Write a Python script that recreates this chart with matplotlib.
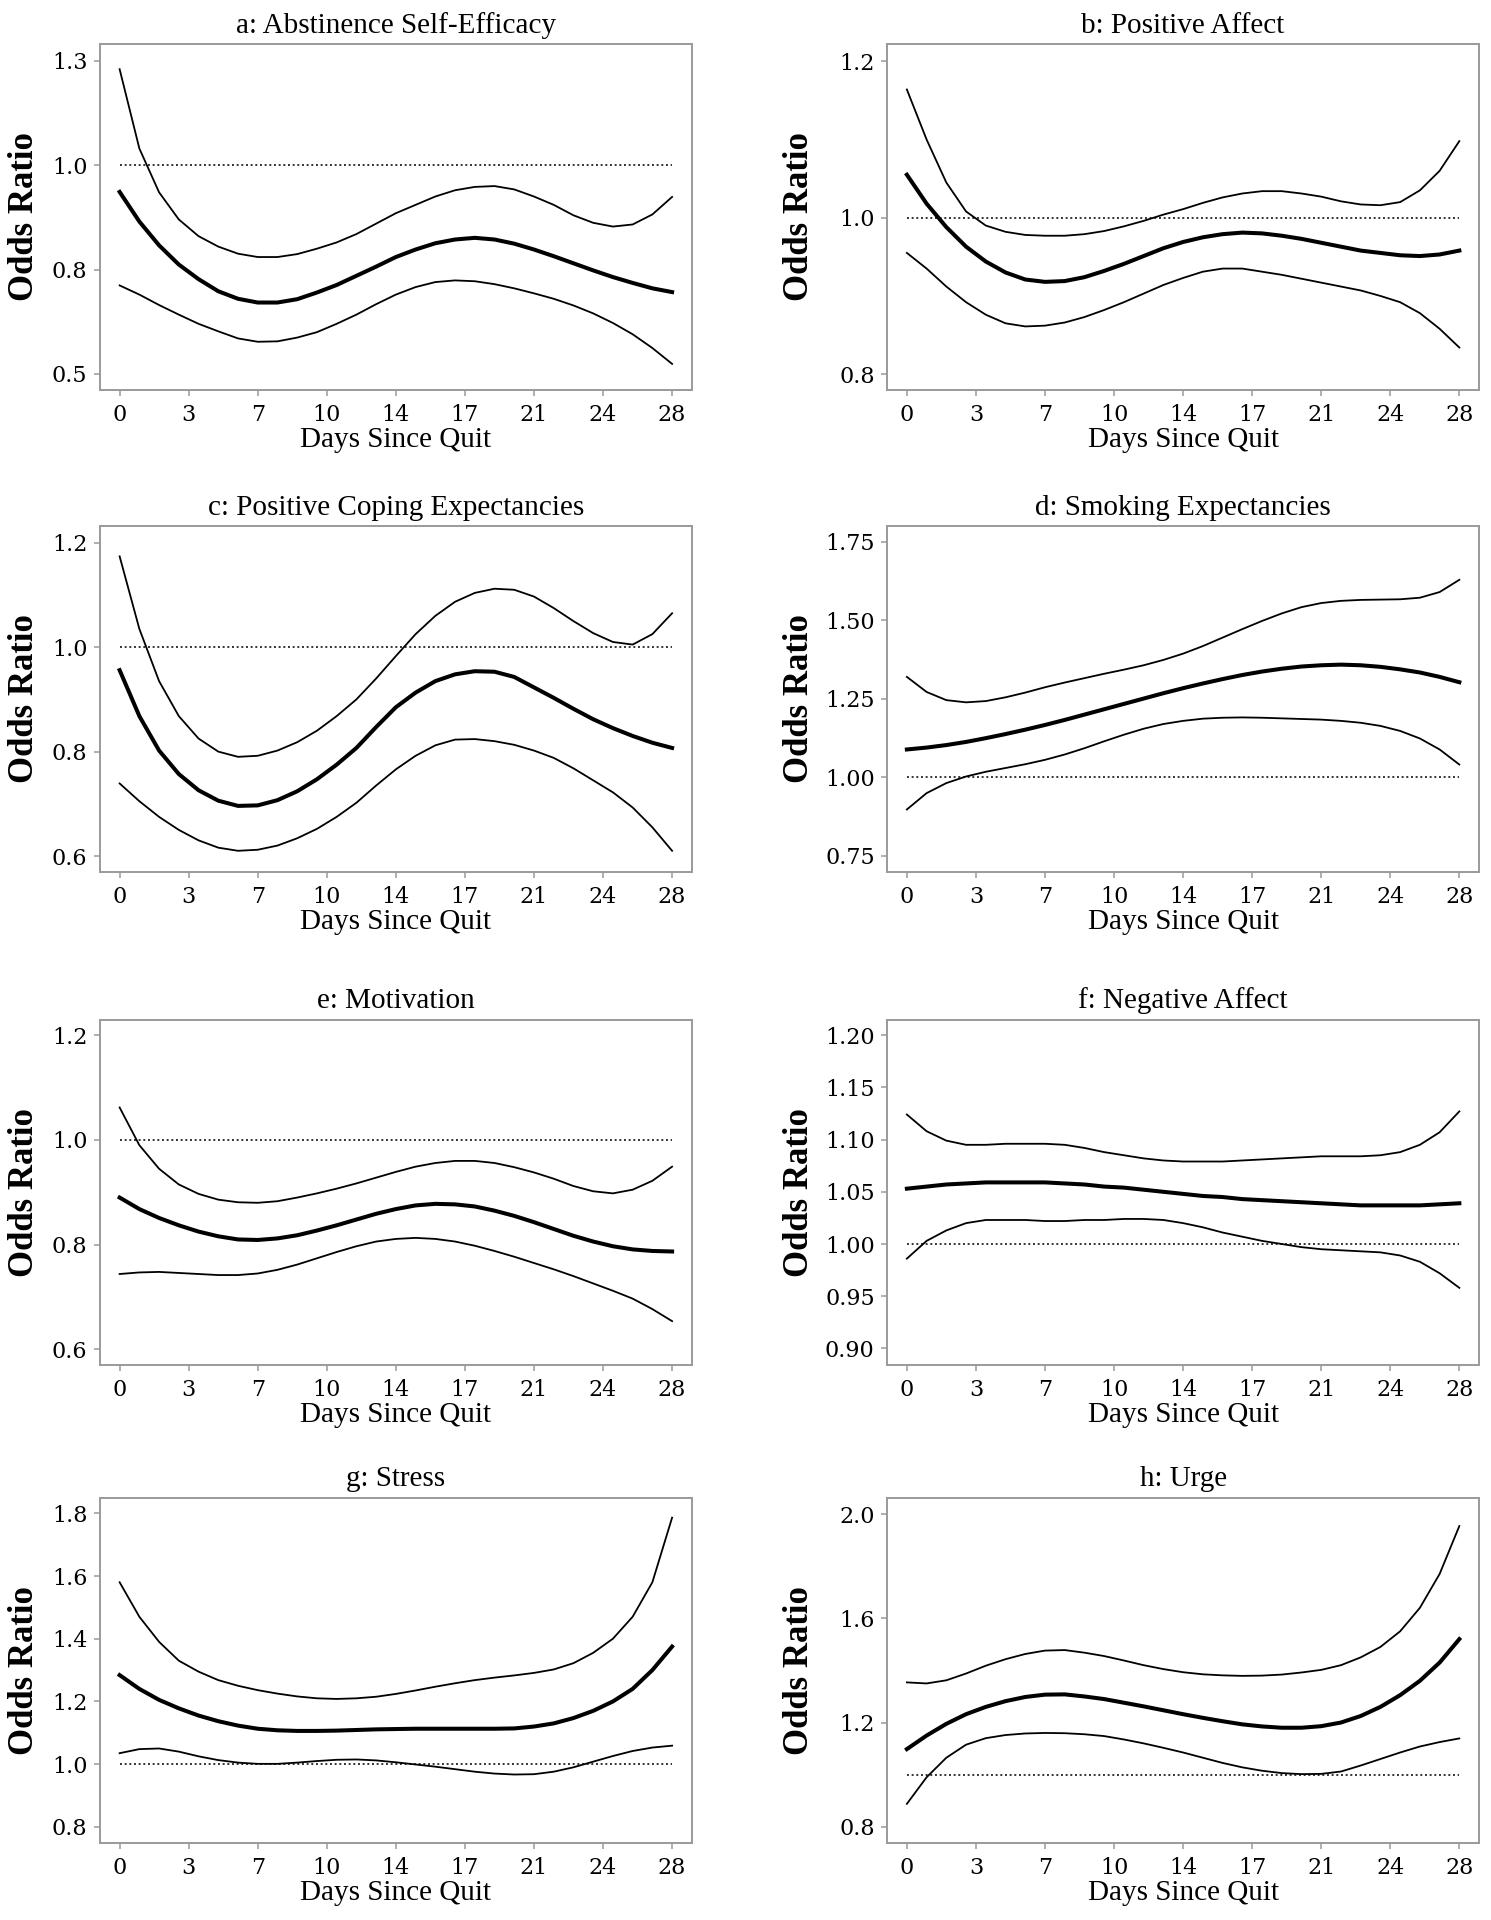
import numpy as np
import matplotlib.pyplot as plt

# every day 0..28
days = list(range(29))

tick_pos = [0, 3.5, 7, 10.5, 14, 17.5, 21, 24.5, 28]
tick_lab = ["0", "3", "7", "10", "14", "17", "21", "24", "28"]

titles = ["a: Abstinence Self-Efficacy", "b: Positive Affect",
          "c: Positive Coping Expectancies", "d: Smoking Expectancies",
          "e: Motivation", "f: Negative Affect", "g: Stress", "h: Urge"]

# a: Abstinence Self-Efficacy
a_up = [1.23, 1.04, 0.935, 0.87, 0.83, 0.805, 0.788, 0.78, 0.78, 0.787, 0.80, 0.815, 0.835,
        0.86, 0.885, 0.905, 0.925, 0.94, 0.948, 0.95, 0.942, 0.925, 0.905, 0.88, 0.862,
        0.853, 0.858, 0.882, 0.924]
a_est = [0.936, 0.865, 0.808, 0.762, 0.727, 0.698, 0.68, 0.671, 0.671, 0.679, 0.695, 0.713,
         0.735, 0.757, 0.78, 0.798, 0.813, 0.822, 0.826, 0.822, 0.812, 0.798, 0.782, 0.765,
         0.748, 0.732, 0.718, 0.705, 0.696]
a_lo = [0.712, 0.69, 0.665, 0.642, 0.62, 0.602, 0.585, 0.577, 0.578, 0.587, 0.60, 0.62, 0.642,
        0.667, 0.69, 0.708, 0.72, 0.724, 0.722, 0.715, 0.705, 0.693, 0.68, 0.664, 0.645,
        0.622, 0.595, 0.562, 0.524]

# b: Positive Affect
b_up = [1.164, 1.10, 1.045, 1.008, 0.99, 0.982, 0.978, 0.977, 0.977, 0.979, 0.983, 0.989,
        0.996, 1.004, 1.011, 1.019, 1.026, 1.031, 1.034, 1.034, 1.031, 1.027, 1.021, 1.017,
        1.016, 1.02, 1.035, 1.06, 1.098]
b_est = [1.055, 1.018, 0.988, 0.963, 0.944, 0.93, 0.921, 0.918, 0.919, 0.924, 0.932, 0.941,
         0.951, 0.961, 0.969, 0.975, 0.979, 0.981, 0.98, 0.977, 0.973, 0.968, 0.963, 0.958,
         0.955, 0.952, 0.951, 0.953, 0.958]
b_lo = [0.955, 0.935, 0.912, 0.892, 0.876, 0.865, 0.861, 0.862, 0.866, 0.873, 0.882, 0.892,
        0.903, 0.914, 0.923, 0.931, 0.935, 0.935, 0.931, 0.927, 0.922, 0.917, 0.912, 0.907,
        0.90, 0.892, 0.878, 0.858, 0.834]

# c: Positive Coping Expectancies
c_up = [1.174, 1.035, 0.935, 0.868, 0.825, 0.80, 0.79, 0.792, 0.802, 0.818, 0.84, 0.868,
        0.90, 0.94, 0.983, 1.025, 1.06, 1.087, 1.104, 1.112, 1.11, 1.097, 1.075, 1.05,
        1.027, 1.01, 1.005, 1.025, 1.065]
c_est = [0.956, 0.868, 0.802, 0.757, 0.726, 0.706, 0.696, 0.697, 0.707, 0.724, 0.747, 0.775,
         0.807, 0.847, 0.885, 0.913, 0.935, 0.948, 0.954, 0.953, 0.943, 0.923, 0.903, 0.882,
         0.862, 0.845, 0.83, 0.817, 0.807]
c_lo = [0.739, 0.705, 0.675, 0.65, 0.63, 0.616, 0.61, 0.612, 0.62, 0.634, 0.652, 0.675, 0.702,
        0.735, 0.766, 0.792, 0.812, 0.823, 0.824, 0.82, 0.813, 0.802, 0.788, 0.768, 0.745,
        0.722, 0.693, 0.655, 0.61]

# d: Smoking Expectancies
d_up = [1.32, 1.272, 1.246, 1.239, 1.243, 1.255, 1.27, 1.287, 1.302, 1.316, 1.33, 1.343,
        1.357, 1.374, 1.394, 1.418, 1.445, 1.472, 1.498, 1.522, 1.542, 1.555, 1.562, 1.565,
        1.566, 1.567, 1.572, 1.59, 1.629]
d_est = [1.089, 1.095, 1.103, 1.113, 1.125, 1.138, 1.152, 1.167, 1.183, 1.20, 1.217, 1.234,
         1.251, 1.268, 1.284, 1.299, 1.313, 1.326, 1.337, 1.346, 1.353, 1.357, 1.359, 1.357,
         1.352, 1.344, 1.334, 1.32, 1.303]
d_lo = [0.898, 0.95, 0.982, 1.003, 1.018, 1.03, 1.042, 1.056, 1.073, 1.093, 1.115, 1.136,
        1.155, 1.17, 1.18, 1.187, 1.19, 1.191, 1.19, 1.188, 1.186, 1.184, 1.18, 1.174,
        1.164, 1.148, 1.124, 1.089, 1.041]

# e: Motivation
e_up = [1.062, 0.99, 0.945, 0.915, 0.897, 0.886, 0.881, 0.88, 0.883, 0.89, 0.898, 0.907,
        0.917, 0.928, 0.939, 0.949, 0.956, 0.96, 0.96, 0.956, 0.948, 0.938, 0.926, 0.912,
        0.902, 0.898, 0.905, 0.922, 0.949]
e_est = [0.89, 0.868, 0.851, 0.837, 0.825, 0.816, 0.81, 0.809, 0.812, 0.818, 0.827, 0.837,
         0.848, 0.859, 0.868, 0.875, 0.878, 0.877, 0.873, 0.865, 0.855, 0.843, 0.83, 0.817,
         0.806, 0.797, 0.791, 0.788, 0.787]
e_lo = [0.744, 0.747, 0.748, 0.746, 0.744, 0.742, 0.742, 0.745, 0.752, 0.762, 0.774, 0.786,
        0.797, 0.806, 0.811, 0.813, 0.811, 0.806, 0.798, 0.788, 0.777, 0.765, 0.753, 0.74,
        0.726, 0.712, 0.697, 0.677, 0.654]

# f: Negative Affect
f_up = [1.124, 1.108, 1.099, 1.095, 1.095, 1.096, 1.096, 1.096, 1.095, 1.092, 1.088, 1.085,
        1.082, 1.08, 1.079, 1.079, 1.079, 1.08, 1.081, 1.082, 1.083, 1.084, 1.084, 1.084,
        1.085, 1.088, 1.095, 1.107, 1.127]
f_est = [1.053, 1.055, 1.057, 1.058, 1.059, 1.059, 1.059, 1.059, 1.058, 1.057, 1.055, 1.054,
         1.052, 1.05, 1.048, 1.046, 1.045, 1.043, 1.042, 1.041, 1.04, 1.039, 1.038, 1.037,
         1.037, 1.037, 1.037, 1.038, 1.039]
f_lo = [0.986, 1.003, 1.013, 1.02, 1.023, 1.023, 1.023, 1.022, 1.022, 1.023, 1.023, 1.024,
        1.024, 1.023, 1.02, 1.016, 1.011, 1.007, 1.003, 1.0, 0.997, 0.995, 0.994, 0.993,
        0.992, 0.989, 0.983, 0.972, 0.958]

# g: Stress
g_up = [1.58, 1.47, 1.39, 1.33, 1.295, 1.268, 1.25, 1.236, 1.225, 1.216, 1.21, 1.208, 1.21,
        1.215, 1.224, 1.235, 1.247, 1.258, 1.268, 1.276, 1.283, 1.291, 1.302, 1.322, 1.355,
        1.40, 1.47, 1.58, 1.786]
g_est = [1.284, 1.24, 1.205, 1.178, 1.155, 1.137, 1.123, 1.113, 1.108, 1.106, 1.106, 1.107,
         1.109, 1.111, 1.112, 1.113, 1.113, 1.113, 1.113, 1.113, 1.114, 1.12, 1.13, 1.147,
         1.17, 1.20, 1.24, 1.30, 1.375]
g_lo = [1.035, 1.048, 1.05, 1.04, 1.025, 1.013, 1.005, 1.001, 1.001, 1.005, 1.01, 1.014,
        1.015, 1.012, 1.006, 0.999, 0.992, 0.984, 0.976, 0.97, 0.967, 0.968, 0.976, 0.99,
        1.008, 1.026, 1.042, 1.053, 1.059]

# h: Urge
h_up = [1.354, 1.35, 1.362, 1.388, 1.418, 1.443, 1.463, 1.476, 1.478, 1.468, 1.455, 1.438,
        1.42, 1.405, 1.393, 1.385, 1.381, 1.379, 1.38, 1.384, 1.392, 1.402, 1.42, 1.45,
        1.49, 1.55, 1.64, 1.77, 1.954]
h_est = [1.098, 1.15, 1.195, 1.232, 1.26, 1.282, 1.298, 1.307, 1.308, 1.30, 1.29, 1.276,
         1.262, 1.247, 1.232, 1.218, 1.205, 1.193, 1.185, 1.18, 1.18, 1.186, 1.20, 1.225,
         1.26, 1.305, 1.36, 1.43, 1.52]
h_lo = [0.888, 0.99, 1.065, 1.115, 1.14, 1.152, 1.158, 1.16, 1.159, 1.155, 1.148, 1.135,
        1.12, 1.103, 1.085, 1.065, 1.045, 1.028, 1.015, 1.006, 1.002, 1.003, 1.012, 1.035,
        1.06, 1.085, 1.108, 1.125, 1.139]

curves = [(a_up, a_est, a_lo), (b_up, b_est, b_lo), (c_up, c_est, c_lo), (d_up, d_est, d_lo),
          (e_up, e_est, e_lo), (f_up, f_est, f_lo), (g_up, g_est, g_lo), (h_up, h_est, h_lo)]

yticks = [[0.5, 0.75, 1.0, 1.25], [0.8, 1.0, 1.2], [0.6, 0.8, 1.0, 1.2],
          [0.75, 1.0, 1.25, 1.5, 1.75], [0.6, 0.8, 1.0, 1.2],
          [0.90, 0.95, 1.00, 1.05, 1.10, 1.15, 1.20], [0.8, 1.0, 1.2, 1.4, 1.6, 1.8],
          [0.8, 1.2, 1.6, 2.0]]
ylabels = [["0.5", "0.8", "1.0", "1.3"], ["0.8", "1.0", "1.2"], ["0.6", "0.8", "1.0", "1.2"],
           ["0.75", "1.00", "1.25", "1.50", "1.75"], ["0.6", "0.8", "1.0", "1.2"],
           ["0.90", "0.95", "1.00", "1.05", "1.10", "1.15", "1.20"],
           ["0.8", "1.0", "1.2", "1.4", "1.6", "1.8"], ["0.8", "1.2", "1.6", "2.0"]]
ylims = [(0.462, 1.29), (0.78, 1.222), (0.570, 1.232), (0.70, 1.80),
         (0.57, 1.23), (0.884, 1.215), (0.748, 1.85), (0.737, 2.063)]

fig = plt.figure(figsize=(14.91, 19.2), dpi=100)

lefts = [0.067, 0.595]
label_x = [-0.128, -0.148]
bottoms = [0.797, 0.546, 0.289, 0.040]
w, h = 0.397, 0.180

box_col = "#9a9a9a"

for i in range(8):
    r, c = divmod(i, 2)
    ax = fig.add_axes([lefts[c], bottoms[r], w, h])
    up, est, lo = curves[i]
    ax.plot([0, 28], [1, 1], color="#333333", lw=1.4, ls=(0, (1, 1.4)))
    ax.plot(days, up, color="black", lw=1.3, solid_joinstyle="round")
    ax.plot(days, lo, color="black", lw=1.3, solid_joinstyle="round")
    ax.plot(days, est, color="black", lw=2.9, solid_joinstyle="round")
    ax.set_xlim(-1.0, 29.0)
    ax.set_ylim(*ylims[i])
    ax.set_xticks(tick_pos)
    ax.set_xticklabels(tick_lab)
    ax.set_yticks(yticks[i])
    ax.set_yticklabels(ylabels[i])
    for s in ax.spines.values():
        s.set_color(box_col)
        s.set_linewidth(1.4)
    ax.tick_params(direction="out", length=4, width=1.1, color=box_col, pad=6,
                   labelsize=16)
    ax.tick_params(axis="y", pad=5)
    for t in ax.get_xticklabels() + ax.get_yticklabels():
        t.set_fontfamily("DejaVu Serif")
    ax.set_title(titles[i], fontsize=21, family="Liberation Serif", pad=8)
    ax.set_xlabel("Days Since Quit", fontsize=21, family="Liberation Serif", labelpad=1)
    ax.text(label_x[c], 0.5, "Odds Ratio", transform=ax.transAxes, rotation=90,
            ha="center", va="center", fontsize=25, family="Liberation Serif",
            fontweight="bold")

fig.savefig("out.png", dpi=100, facecolor="white")
